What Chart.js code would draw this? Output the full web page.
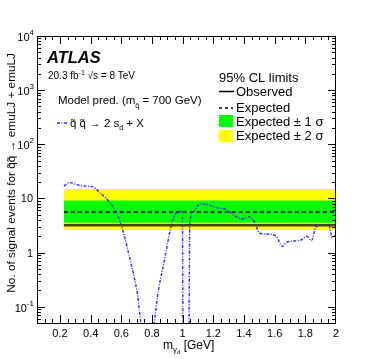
<!DOCTYPE html>
<html>
<head>
<meta charset="utf-8">
<script src="https://cdn.jsdelivr.net/npm/chart.js@4.4.1/dist/chart.umd.min.js"></script>
<style>
  html, body { margin: 0; padding: 0; background: #fff; }
  #wrap { width: 374px; height: 359px; }
</style>
</head>
<body>
<div id="wrap"><canvas id="limitChart"></canvas></div>
<script>
// 95% CL limits, flat over the scanned mass range
var bandX = [0.225, 2.0];
var observed = [3.2, 3.2];
var expected = [5.6, 5.6];
var oneSigmaUp = [9.2, 9.2];
var oneSigmaDown = [3.55, 3.55];
var twoSigmaUp = [15, 15];
var twoSigmaDown = [2.6, 2.6];

// model prediction, m(squark) = 700 GeV
var modelX = [0.225, 0.265, 0.31, 0.35, 0.41, 0.46, 0.527, 0.57, 0.614, 0.657, 0.70, 0.745,
              0.795, 0.843, 0.886, 0.92, 0.95, 0.984, 0.998, 1.003, 1.04, 1.046, 1.063, 1.117,
              1.16, 1.23, 1.29, 1.35, 1.40, 1.43, 1.47, 1.50, 1.55, 1.61, 1.65, 1.68, 1.77,
              1.81, 1.84, 1.87, 1.90, 1.955, 1.975, 2.0];
var modelY = [17, 19.6, 18, 17, 16.5, 12.7, 8.3, 5.4, 2.3, 0.74, 0.21, 0.03,
              0.03, 0.21, 0.85, 2.7, 5.0, 5.8, 5.5, 0.02, 0.02, 3.1, 5.4, 8.0,
              7.7, 6.7, 6.1, 4.6, 4.2, 4.6, 3.6, 2.3, 2.2, 2.0, 1.3, 1.55, 1.7,
              2.0, 1.67, 3.0, 3.2, 3.1, 1.9, 2.1];

var xTickLabels = [0.2, 0.4, 0.6, 0.8, 1, 1.2, 1.4, 1.6, 1.8, 2];
var yTickLabels = [0.1, 1, 10, 100, 1000, 10000];

var FONT = '"Liberation Sans", Arial, Helvetica, sans-serif';
Chart.defaults.font.family = FONT;
Chart.defaults.color = '#000';

function pts(xs, ys) {
  return xs.map(function (x, i) { return {x: x, y: ys[i]}; });
}

// draw a row of text pieces: [text, size, dy, style]
function runs(ctx, x, y, parts) {
  parts.forEach(function (p) {
    ctx.font = (p[3] || '') + ' ' + p[1] + 'px ' + FONT;
    ctx.fillText(p[0], x, y + (p[2] || 0));
    x += ctx.measureText(p[0]).width;
  });
  return x;
}
function runsWidth(ctx, parts) {
  var w = 0;
  parts.forEach(function (p) {
    ctx.font = (p[3] || '') + ' ' + p[1] + 'px ' + FONT;
    w += ctx.measureText(p[0]).width;
  });
  return w;
}

var rootStyle = {
  id: 'rootStyle',
  afterDatasetsDraw: function (chart) {
    var ctx = chart.ctx, a = chart.chartArea;
    var xs = chart.scales.x, ys = chart.scales.y;
    ctx.save();
    ctx.strokeStyle = '#000';
    ctx.lineWidth = 1;
    ctx.beginPath();
    // x ticks every 0.05, long every 0.2
    for (var i = 1; i < 40; i++) {
      var px = Math.round(xs.getPixelForValue(i * 0.05)) + 0.5;
      var len = (i % 4 === 0) ? 8 : 4;
      ctx.moveTo(px, a.bottom); ctx.lineTo(px, a.bottom - len);
      ctx.moveTo(px, a.top); ctx.lineTo(px, a.top + len);
    }
    // log ticks
    for (var e = -2; e <= 4; e++) {
      for (var k = 1; k <= 9; k++) {
        var v = k * Math.pow(10, e);
        if (v < ys.min || v > ys.max) continue;
        var py = Math.round(ys.getPixelForValue(v)) + 0.5;
        var l = (k === 1) ? 8 : 4;
        ctx.moveTo(a.left, py); ctx.lineTo(a.left + l, py);
        ctx.moveTo(a.right, py); ctx.lineTo(a.right - l, py);
      }
    }
    ctx.stroke();
    ctx.strokeRect(Math.round(a.left) + 0.5, Math.round(a.top) + 0.5,
                   Math.round(a.right - a.left) - 1, Math.round(a.bottom - a.top));
    ctx.restore();
  },
  afterDraw: function (chart) {
    var ctx = chart.ctx, ys = chart.scales.y;
    ctx.save();
    ctx.fillStyle = '#000';
    ctx.textBaseline = 'alphabetic';

    // y tick labels
    yTickLabels.forEach(function (v) {
      var py = ys.getPixelForValue(v);
      var ex = Math.round(Math.log10(v));
      ctx.textAlign = 'right';
      if (ex === 0 || ex === 1) {
        ctx.font = '11px ' + FONT;
        ctx.fillText(ex === 0 ? '1' : '10', 33, py + 4);
      } else {
        var sup = String(ex);
        ctx.font = '8px ' + FONT;
        var sw = ctx.measureText(sup).width;
        ctx.fillText(sup, 34, py - 1);
        ctx.font = '11px ' + FONT;
        ctx.fillText('10', 34 - sw, py + 5);
      }
    });
    ctx.textAlign = 'left';

    // axis titles
    runs(ctx, 163, 349, [['m', 12], ['\u03b3', 8, 3], ['d', 6, 5], [' [GeV]', 12]]);
    var yt = [['No. of signal events for q\u0303q\u0303 \u2192 emuLJ + emuLJ', 11.8]];
    ctx.save();
    ctx.translate(15, 53);
    ctx.rotate(-Math.PI / 2);
    runs(ctx, -runsWidth(ctx, yt), 0, yt);
    ctx.restore();

    // labels top left
    runs(ctx, 47, 63, [['ATLAS', 16.5, 0, 'italic bold']]);
    runs(ctx, 48, 79, [['20.3 fb', 10], ['-1', 7, -4], [' \u221as = 8 TeV', 10]]);
    runs(ctx, 58, 104, [['Model pred. (m', 11.5], ['q\u0303', 7, 4], [' = 700 GeV)', 11.5]]);
    ctx.strokeStyle = '#2b2bf0';
    ctx.lineWidth = 1.3;
    ctx.setLineDash([3, 1.5, 1, 1.5]);
    ctx.beginPath(); ctx.moveTo(57, 123); ctx.lineTo(67, 123); ctx.stroke();
    ctx.setLineDash([]);
    runs(ctx, 70, 127, [['q\u0303 q\u0303 \u2192 2 s', 11.5], ['d', 7, 3], [' + X', 11.5]]);

    // legend right
    runs(ctx, 219, 82, [['95% CL limits', 13]]);
    ctx.strokeStyle = '#000';
    ctx.lineWidth = 1.5;
    ctx.beginPath(); ctx.moveTo(219, 91.5); ctx.lineTo(234, 91.5); ctx.stroke();
    runs(ctx, 236, 96, [['Observed', 13]]);
    ctx.setLineDash([3, 3]);
    ctx.beginPath(); ctx.moveTo(219, 108); ctx.lineTo(233, 108); ctx.stroke();
    ctx.setLineDash([]);
    runs(ctx, 236, 112, [['Expected', 13]]);
    ctx.fillStyle = '#00ff00';
    ctx.fillRect(219, 115, 14, 12);
    ctx.fillStyle = '#ffff00';
    ctx.fillRect(219, 130, 14, 12);
    ctx.fillStyle = '#000';
    runs(ctx, 236, 126, [['Expected \u00b1 1 \u03c3', 13]]);
    runs(ctx, 236, 140, [['Expected \u00b1 2 \u03c3', 13]]);
    ctx.restore();
  }
};

var flat = {pointRadius: 0, borderWidth: 0, tension: 0};

new Chart(document.getElementById('limitChart'), {
  type: 'line',
  data: {
    datasets: [
      Object.assign({data: pts(bandX, twoSigmaUp), fill: '+1', order: 10,
                     backgroundColor: '#ffff00', borderColor: '#ffff00'}, flat),
      Object.assign({data: pts(bandX, twoSigmaDown), fill: false, order: 11, borderColor: '#ffff00'}, flat),
      Object.assign({data: pts(bandX, oneSigmaUp), fill: '+1', order: 8,
                     backgroundColor: '#00ff00', borderColor: '#00ff00'}, flat),
      Object.assign({data: pts(bandX, oneSigmaDown), fill: false, order: 9, borderColor: '#00ff00'}, flat),
      {data: pts(bandX, expected), fill: false, order: 3, borderColor: '#000', borderWidth: 1.5,
       borderDash: [4, 3], pointRadius: 0},
      {data: pts(bandX, observed), fill: false, order: 2, borderColor: '#4a4200', borderWidth: 2.5,
       pointRadius: 0},
      {data: pts(modelX, modelY), fill: false, order: 1, borderColor: '#2b2bf0', borderWidth: 1.4,
       borderDash: [3, 1.5, 1, 1.5], pointRadius: 0, cubicInterpolationMode: 'monotone'}
    ]
  },
  options: {
    responsive: true,
    maintainAspectRatio: false,
    animation: false,
    devicePixelRatio: 1,
    layout: {padding: {left: 0, top: 36, right: 38, bottom: 0}},
    plugins: {legend: {display: false}, tooltip: {enabled: false}},
    scales: {
      x: {
        type: 'linear', min: 0.05, max: 2,
        grid: {display: false, drawTicks: false},
        border: {display: false},
        ticks: {
          stepSize: 0.05, autoSkip: false, maxRotation: 0, padding: 4,
          font: {size: 11}, color: '#000',
          callback: function (v) {
            var hit = xTickLabels.filter(function (t) { return Math.abs(t - v) < 1e-6; });
            return hit.length ? String(hit[0]) : '';
          }
        },
        afterFit: function (s) { s.height = 36; }
      },
      y: {
        type: 'logarithmic', min: 0.05, max: 10000,
        grid: {display: false, drawTicks: false},
        border: {display: false},
        ticks: {display: false},
        afterFit: function (s) { s.width = 37; }
      }
    }
  },
  plugins: [rootStyle]
});
</script>
</body>
</html>
